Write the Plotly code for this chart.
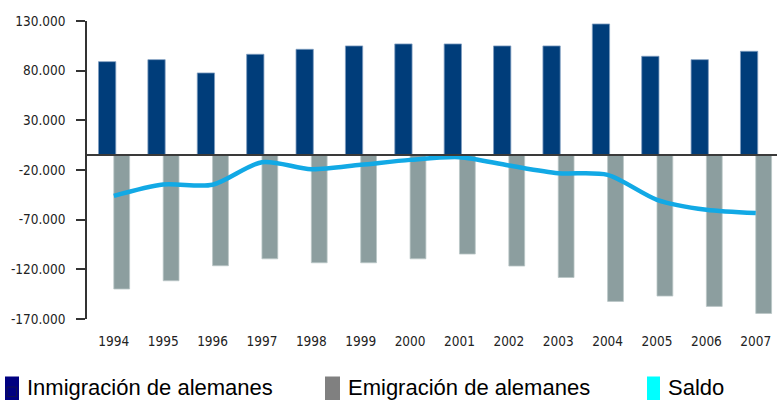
import plotly.graph_objects as go

# Migración de alemanes (Alemania), 1994-2007
years = ["1994", "1995", "1996", "1997", "1998", "1999", "2000",
         "2001", "2002", "2003", "2004", "2005", "2006", "2007"]
inmigracion = [89100, 91100, 77700, 96500, 101500, 104900, 106900,
               106900, 104900, 104900, 127000, 94500, 91100, 99500]
emigracion = [-139800, -131500, -116400, -109400, -113400, -113400, -109400,
              -104600, -116700, -128200, -152300, -146900, -157300, -164400]
saldo = [-46000, -34600, -34900, -12100, -19200, -14800, -9800,
         -7100, -15500, -23200, -24900, -50000, -60100, -63400]

tick_values = [130000, 80000, 30000, -20000, -70000, -120000, -170000]
tick_labels = ["130.000", "80.000", "30.000", "-20.000", "-70.000", "-120.000", "-170.000"]

# the category axis crosses the value axis here; bars grow from this line
AXIS_CROSSING = -5000

legend_items = [
    ("#000080", "Inmigración de alemanes"),
    ("#808080", "Emigración de alemanes"),
    ("#00FFFF", "Saldo"),
]

W, H = 780, 400
M_L, M_R, M_T, M_B = 87, 3, 21, 81
PLOT_W = W - M_L - M_R
PLOT_H = H - M_T - M_B

AXIS_FONT = dict(family="DejaVu Sans Condensed, DejaVu Sans, sans-serif", size=13.5, color="#222222")

fig = go.Figure()

fig.add_trace(go.Bar(
    x=years, y=[v - AXIS_CROSSING for v in inmigracion], base=AXIS_CROSSING,
    name="Inmigración de alemanes",
    marker=dict(color="#003D7A", line=dict(color="#7F9DC0", width=0.8)),
    width=0.35, offset=-0.31, showlegend=False,
))
fig.add_trace(go.Bar(
    x=years, y=[v - AXIS_CROSSING for v in emigracion], base=AXIS_CROSSING,
    name="Emigración de alemanes",
    marker=dict(color="#8C9E9F", line=dict(color="#BAC6C6", width=0.8)),
    width=0.32, offset=0.0, showlegend=False,
))
fig.add_trace(go.Scatter(
    x=years, y=saldo, mode="lines", name="Saldo",
    line=dict(color="#12A9E5", width=4.5, shape="spline", smoothing=0.8),
    showlegend=False,
))

# horizontal category axis line at the crossing value
fig.add_shape(type="line", xref="paper", yref="y", x0=0, x1=1,
              y0=AXIS_CROSSING, y1=AXIS_CROSSING,
              line=dict(color="#3A3A3A", width=2), layer="above")


def px_x(px):
    return (px - M_L) / PLOT_W


def px_y(py):
    return (M_T + PLOT_H - py) / PLOT_H


# legend drawn below the chart: tall colour swatch followed by its label
swatch_x = [(5, 19), (325, 340), (647, 660)]
label_x = [25, 346, 666]
for (color, text), (sx0, sx1), lx in zip(legend_items, swatch_x, label_x):
    fig.add_shape(type="rect", xref="paper", yref="paper",
                  x0=px_x(sx0), x1=px_x(sx1), y0=px_y(402), y1=px_y(376.5),
                  fillcolor=color, line=dict(width=0))
    fig.add_annotation(xref="paper", yref="paper", x=px_x(lx), y=px_y(387.5),
                       xanchor="left", yanchor="middle", showarrow=False,
                       text=text,
                       font=dict(family="Liberation Sans, Arial, sans-serif", size=22, color="#000000"))
# small outlined square inside the first swatch
fig.add_shape(type="rect", xref="paper", yref="paper",
              x0=px_x(7), x1=px_x(16.5), y0=px_y(396.5), y1=px_y(387),
              fillcolor="rgba(0,0,0,0)", line=dict(color="#101050", width=1))

fig.update_layout(
    width=W, height=H,
    margin=dict(l=M_L, r=M_R, t=M_T, b=M_B, pad=0),
    paper_bgcolor="white", plot_bgcolor="white",
    barmode="overlay",
    xaxis=dict(type="category", range=[-0.543, 13.43],
               showline=False, showgrid=False, zeroline=False, ticks="",
               tickfont=AXIS_FONT, ticklabelstandoff=12),
    yaxis=dict(range=[-170000, 130000], tickvals=tick_values, ticktext=tick_labels,
               showline=True, linecolor="#333333", linewidth=1.5,
               ticks="outside", ticklen=9, tickcolor="#333333", tickwidth=1.5,
               showgrid=False, zeroline=False,
               tickfont=AXIS_FONT, ticklabelstandoff=8),
)

fig.write_html("out.html")
